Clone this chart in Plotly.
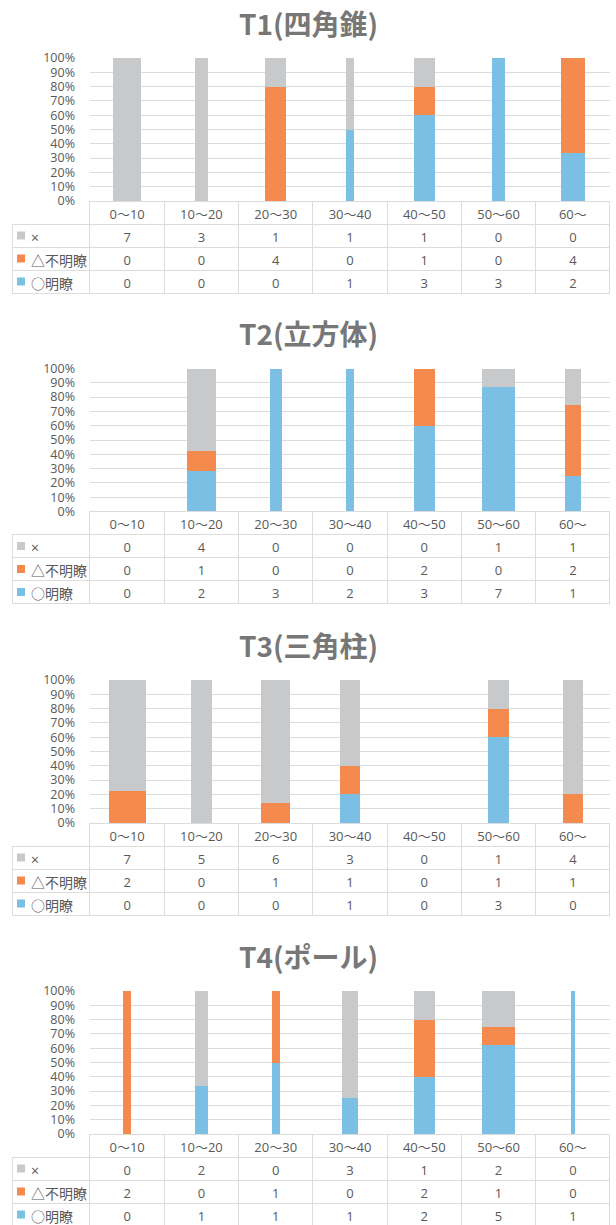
import plotly.graph_objects as go

W, H = 616, 1225

categories = ['0～10', '10～20', '20～30', '30～40', '40～50', '50～60', '60～']
titles = ['T1(四角錐)', 'T2(立方体)', 'T3(三角柱)', 'T4(ポール)']
series_names = ['×', '△不明瞭', '○明瞭']

t1_x = [7, 3, 1, 1, 1, 0, 0]
t1_tri = [0, 0, 4, 0, 1, 0, 4]
t1_circ = [0, 0, 0, 1, 3, 3, 2]

t2_x = [0, 4, 0, 0, 0, 1, 1]
t2_tri = [0, 1, 0, 0, 2, 0, 2]
t2_circ = [0, 2, 3, 2, 3, 7, 1]

t3_x = [7, 5, 6, 3, 0, 1, 4]
t3_tri = [2, 0, 1, 1, 0, 1, 1]
t3_circ = [0, 0, 0, 1, 0, 3, 0]

t4_x = [0, 2, 0, 3, 1, 2, 0]
t4_tri = [2, 0, 1, 0, 2, 1, 0]
t4_circ = [0, 1, 1, 1, 2, 5, 1]

panels = [
    (t1_x, t1_tri, t1_circ),
    (t2_x, t2_tri, t2_circ),
    (t3_x, t3_tri, t3_circ),
    (t4_x, t4_tri, t4_circ),
]

C_GRAY = '#c8c9ca'
C_ORANGE = '#f58a4e'
C_BLUE = '#7cbfe4'
series_colors = [C_GRAY, C_ORANGE, C_BLUE]
TXT = '#595959'
GRID = '#dcdcdc'
FONT = 'Open Sans, Noto Sans CJK JP'
JFONT = 'Noto Sans CJK JP'

offsets = [0, 310.5, 622, 933]
WIDTH_PER_COUNT = 0.0552  # category units per respondent
ROW_H = 23


def py(px):
    return min(1, max(0, 1 - px / H))


fig = go.Figure()
layout = {}
shapes = []

for i, ((vx, vtri, vcirc), title, o) in enumerate(zip(panels, titles, offsets)):
    n = i + 1
    xa = 'x' if n == 1 else f'x{n}'
    ya = 'y' if n == 1 else f'y{n}'
    totals = [a + b + c for a, b, c in zip(vx, vtri, vcirc)]
    widths = [t * WIDTH_PER_COUNT for t in totals]

    def frac(vals):
        return [v / t if t else 0 for v, t in zip(vals, totals)]

    for vals, color in ((vcirc, C_BLUE), (vtri, C_ORANGE), (vx, C_GRAY)):
        fig.add_trace(go.Bar(
            x=categories, y=frac(vals), width=widths,
            marker=dict(color=color, line=dict(width=0)),
            xaxis=xa, yaxis=ya, showlegend=False, hoverinfo='skip'))

    top, bottom = o + 58, o + 201
    layout['xaxis' if n == 1 else f'xaxis{n}'] = dict(
        domain=[90 / W, 610 / W], anchor=ya, type='category',
        range=[-0.5, 6.5], showticklabels=False, showgrid=False,
        zeroline=False, showline=False, ticks='', fixedrange=True)
    layout['yaxis' if n == 1 else f'yaxis{n}'] = dict(
        domain=[py(bottom), py(top)], anchor=xa, range=[0, 1],
        tickformat='.0%', dtick=0.1, tick0=0, showgrid=True,
        gridcolor=GRID, gridwidth=1, zeroline=False, showline=False,
        ticks='', ticklabelstandoff=14,
        tickfont=dict(family=FONT, size=12.5, color=TXT), fixedrange=True)

    fig.add_annotation(
        text=f'<b>{title}</b>', x=0.5, y=py(o + 23), xref='paper',
        yref='paper', xanchor='center', yanchor='middle', showarrow=False,
        font=dict(family=JFONT, size=28, color='#777777'))

    # data table
    row_labels = ['\u00a0\u00a0\u00a0' + s for s in series_names]
    columns = [row_labels] + [[str(a), str(b), str(c)] for a, b, c in zip(vx, vtri, vcirc)]
    fig.add_trace(go.Table(
        domain=dict(x=[12 / W, 610 / W], y=[py(o + 201 + 4 * ROW_H + 4), py(o + 201)]),
        columnwidth=[78] + [74.3] * 7,
        header=dict(
            values=[''] + categories, height=ROW_H,
            align='center',
            line=dict(color=['rgba(0,0,0,0)'] + [GRID] * 7, width=1),
            fill=dict(color='rgba(0,0,0,0)'),
            font=dict(family=FONT, size=13, color=TXT)),
        cells=dict(
            values=columns, height=ROW_H,
            align=['left'] + ['center'] * 7,
            line=dict(color=GRID, width=1),
            fill=dict(color='rgba(0,0,0,0)'),
            font=dict(family=FONT, size=[14] + [13] * 7, color=TXT))))

    # legend keys in the row-label cells
    for r, c in enumerate(series_colors):
        yc = o + 201 + ROW_H * (r + 1) + ROW_H / 2
        shapes.append(dict(
            type='rect', xref='paper', yref='paper',
            x0=17 / W, x1=25 / W, y0=py(yc + 4), y1=py(yc - 4),
            fillcolor=c, line=dict(width=0), layer='above'))

fig.update_layout(
    width=W, height=H,
    margin=dict(l=0, r=0, t=0, b=0, autoexpand=False),
    paper_bgcolor='white', plot_bgcolor='white', barmode='stack',
    bargap=0, font=dict(family=FONT, color=TXT), shapes=shapes, **layout)

fig.write_html('out.html',
               config={'displayModeBar': False},
               post_script="document.body.style.margin='0';"
                           "document.body.style.padding='0';")
